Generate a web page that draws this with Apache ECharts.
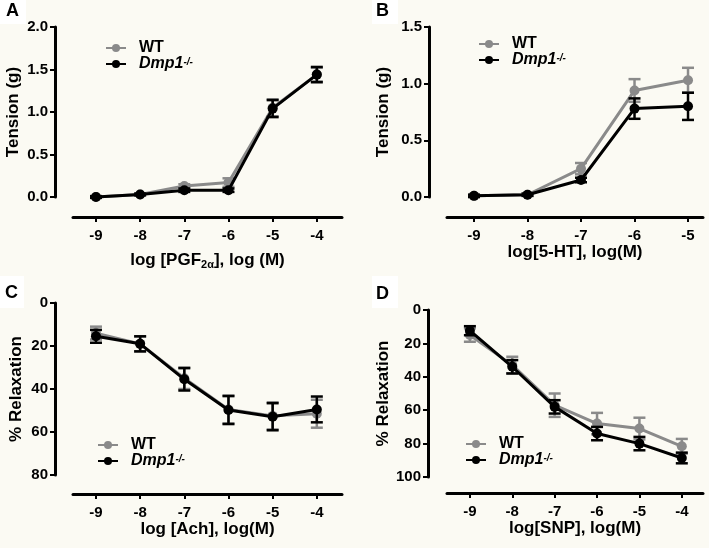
<!DOCTYPE html>
<html><head><meta charset="utf-8">
<script src="https://cdn.jsdelivr.net/npm/echarts@6/dist/echarts.min.js"></script>
<style>html,body{margin:0;padding:0;background:#fbfaf3}#c{width:709px;height:548px}</style>
</head><body><div id="c"></div>
<script>
// ---- data ----
const xA = [-9, -8, -7, -6, -5, -4];
const wtA = [0.0, 0.03, 0.13, 0.17, 1.05, 1.44];
const wtAErr = [0.01, 0.01, 0.02, 0.05, 0.1, 0.08];
const koA = [0.0, 0.03, 0.08, 0.08, 1.04, 1.44];
const koAErr = [0.01, 0.01, 0.02, 0.02, 0.1, 0.09];

const xB = [-9, -8, -7, -6, -5];
const wtB = [0.01, 0.02, 0.25, 0.94, 1.03];
const wtBErr = [0.01, 0.01, 0.05, 0.1, 0.11];
const koB = [0.01, 0.02, 0.15, 0.78, 0.80];
const koBErr = [0.01, 0.01, 0.02, 0.09, 0.12];

const xC = [-9, -8, -7, -6, -5, -4];
const wtC = [14, 19, 35, 49.5, 52.5, 51.5];
const wtCErr = [3, 3.5, 5, 6.5, 6.3, 6.5];
const koC = [15.5, 19, 35.5, 49.8, 52.9, 49.5];
const koCErr = [3, 3.5, 5.2, 6.5, 6.3, 6];

const xD = [-9, -8, -7, -6, -5, -4];
const wtD = [15, 33, 57, 68, 71, 81.6];
const wtDErr = [4, 5, 7, 6.4, 6.5, 4.4];
const koD = [12.4, 34, 58, 74, 80, 88.6];
const koDErr = [2.7, 4, 4, 4, 4, 3.2];

const yTicksA = [0, 0.5, 1.0, 1.5, 2.0];
const yTicksB = [0, 0.5, 1.0, 1.5];
const yTicksC = [0, 20, 40, 60, 80];
const yTicksD = [0, 20, 40, 60, 80, 100];

// ---- style ----
const FONT = 'Liberation Sans, Arial, sans-serif';
const GRAY = '#8a8a8a';
const BLACK = '#000000';

function pairs(xs, ys) { return xs.map((x, i) => [x, ys[i]]); }
function errs(xs, ys, es) { return xs.map((x, i) => [x, ys[i] - es[i], ys[i] + es[i]]); }

function errSeries(idx, data, color, z) {
  return {
    type: 'custom', xAxisIndex: idx, yAxisIndex: idx, clip: false, z: z, silent: true,
    data: data, encode: { x: 0, y: [1, 2] },
    renderItem: function (params, api) {
      const x = api.value(0);
      const lo = api.coord([x, api.value(1)]);
      const hi = api.coord([x, api.value(2)]);
      const w = 6;
      const st = { stroke: color, lineWidth: 2.5 };
      return { type: 'group', children: [
        { type: 'line', shape: { x1: lo[0], y1: lo[1], x2: hi[0], y2: hi[1] }, style: st },
        { type: 'line', shape: { x1: lo[0] - w, y1: lo[1], x2: lo[0] + w, y2: lo[1] }, style: st },
        { type: 'line', shape: { x1: hi[0] - w, y1: hi[1], x2: hi[0] + w, y2: hi[1] }, style: st }
      ] };
    }
  };
}
function lineSeries(idx, name, data, color, z) {
  return {
    type: 'line', name: name, xAxisIndex: idx, yAxisIndex: idx, data: data, clip: false, z: z,
    symbol: 'circle', symbolSize: 10, showSymbol: true,
    lineStyle: { color: color, width: 3 }, itemStyle: { color: color }
  };
}

const axisLabelStyle = { color: BLACK, fontFamily: FONT, fontWeight: 'bold', fontSize: 15 };
const nameStyleBase = { color: BLACK, fontFamily: FONT, fontWeight: 'bold', fontSize: 17 };

function xAxisDef(idx, min, max, ticks, name, gap, offset, rich) {
  return {
    type: 'value', gridIndex: idx, min: min, max: max, offset: offset,
    position: 'bottom',
    customValues: ticks,
    axisLine: { onZero: false, lineStyle: { color: BLACK, width: 3 } },
    axisTick: { show: true, length: 5, lineStyle: { color: BLACK, width: 2 }, customValues: ticks },
    axisLabel: Object.assign({ margin: 11, customValues: ticks, formatter: v => String(v) }, axisLabelStyle),
    splitLine: { show: false },
    name: name, nameLocation: 'middle', nameGap: gap,
    nameTextStyle: Object.assign({ rich: rich || {} }, nameStyleBase)
  };
}
function yAxisDef(idx, min, max, ticks, inverse, name, gap, offset, fmt) {
  return {
    type: 'value', gridIndex: idx, min: min, max: max, inverse: inverse, offset: offset,
    customValues: ticks,
    axisLine: { show: true, onZero: false, lineStyle: { color: BLACK, width: 3 } },
    axisTick: { show: true, length: 5, lineStyle: { color: BLACK, width: 2 }, customValues: ticks },
    axisLabel: Object.assign({ margin: 7, customValues: ticks, formatter: fmt }, axisLabelStyle),
    splitLine: { show: false },
    name: name, nameLocation: 'middle', nameGap: gap, nameRotate: 90,
    nameTextStyle: nameStyleBase
  };
}

const subRich = {
  n: { fontFamily: FONT, fontWeight: 'bold', fontSize: 17, color: BLACK },
  sub: { fontFamily: FONT, fontWeight: 'bold', fontSize: 11, color: BLACK, verticalAlign: 'bottom', padding: [9, 0, 0, 0] }
};

function legendDef(left, top) {
  return {
    left: left, top: top, orient: 'vertical', itemWidth: 20, itemHeight: 10, itemGap: 0,
    data: ['WT', 'Dmp1'], selectedMode: false,
    formatter: n => n === 'WT' ? '{b|WT}' : '{i|Dmp1}{s|-/-}',
    textStyle: {
      padding: [0, 0, 0, 8], lineHeight: 14,
      rich: {
        b: { fontFamily: FONT, fontWeight: 'bold', fontSize: 16, color: BLACK, lineHeight: 14 },
        i: { fontFamily: FONT, fontWeight: 'bold', fontStyle: 'italic', fontSize: 16, color: BLACK, lineHeight: 14 },
        s: { fontFamily: FONT, fontWeight: 'bold', fontStyle: 'italic', fontSize: 10, color: BLACK, lineHeight: 14, verticalAlign: 'top', padding: [0, 0, 9, 0] }
      }
    }
  };
}

const fmt1 = v => v.toFixed(1);
const fmt0 = v => String(v);

const option = {
  backgroundColor: '#fbfaf3',
  animation: false,
  graphic: [
    { type: 'rect', shape: { x: 0, y: 0, width: 26, height: 24 }, style: { fill: '#ffffff' } },
    { type: 'text', left: 6, top: 2, style: { text: 'A', font: 'bold 18px ' + FONT, fill: BLACK } },
    { type: 'rect', shape: { x: 372, y: 0, width: 26, height: 24 }, style: { fill: '#ffffff' } },
    { type: 'text', left: 376, top: 2, style: { text: 'B', font: 'bold 18px ' + FONT, fill: BLACK } },
    { type: 'rect', shape: { x: 0, y: 276, width: 24, height: 32 }, style: { fill: '#ffffff' } },
    { type: 'text', left: 5, top: 284, style: { text: 'C', font: 'bold 18px ' + FONT, fill: BLACK } },
    { type: 'rect', shape: { x: 372, y: 276, width: 26, height: 32 }, style: { fill: '#ffffff' } },
    { type: 'text', left: 376, top: 285, style: { text: 'D', font: 'bold 18px ' + FONT, fill: BLACK } }
  ],
  grid: [
    { left: 73, top: 27, width: 269, height: 170 },
    { left: 447, top: 27, width: 256, height: 170 },
    { left: 73, top: 303, width: 269, height: 172 },
    { left: 447, top: 310, width: 256, height: 167 }
  ],
  xAxis: [
    xAxisDef(0, -9.52, -3.43, xA, '{n|log [PGF}{sub|2α}{n|], log (M)}', 33, 20, subRich),
    xAxisDef(1, -9.505, -4.72, xB, 'log[5-HT], log(M)', 27, 20),
    xAxisDef(2, -9.52, -3.43, xC, 'log [Ach], log(M)', 27, 19),
    xAxisDef(3, -9.54, -3.50, xD, 'log[SNP], log(M)', 15, 16)
  ],
  yAxis: [
    yAxisDef(0, 0, 2, yTicksA, false, 'Tension (g)', 33, 18, fmt1),
    yAxisDef(1, 0, 1.5, yTicksB, false, 'Tension (g)', 37, 18, fmt1),
    yAxisDef(2, 0, 80, yTicksC, true, '% Relaxation', 30, 18, fmt0),
    yAxisDef(3, 0, 100, yTicksD, true, '% Relaxation', 23, 19, fmt0)
  ],
  legend: [legendDef(100, 35), legendDef(473, 31), legendDef(92, 432), legendDef(460, 431)],
  series: [
    errSeries(0, errs(xA, wtA, wtAErr), GRAY, 2), lineSeries(0, 'WT', pairs(xA, wtA), GRAY, 2),
    errSeries(0, errs(xA, koA, koAErr), BLACK, 3), lineSeries(0, 'Dmp1', pairs(xA, koA), BLACK, 3),
    errSeries(1, errs(xB, wtB, wtBErr), GRAY, 2), lineSeries(1, 'WT', pairs(xB, wtB), GRAY, 2),
    errSeries(1, errs(xB, koB, koBErr), BLACK, 3), lineSeries(1, 'Dmp1', pairs(xB, koB), BLACK, 3),
    errSeries(2, errs(xC, wtC, wtCErr), GRAY, 2), lineSeries(2, 'WT', pairs(xC, wtC), GRAY, 2),
    errSeries(2, errs(xC, koC, koCErr), BLACK, 3), lineSeries(2, 'Dmp1', pairs(xC, koC), BLACK, 3),
    errSeries(3, errs(xD, wtD, wtDErr), GRAY, 2), lineSeries(3, 'WT', pairs(xD, wtD), GRAY, 2),
    errSeries(3, errs(xD, koD, koDErr), BLACK, 3), lineSeries(3, 'Dmp1', pairs(xD, koD), BLACK, 3)
  ]
};
const chart = echarts.init(document.getElementById('c'), null, { renderer: 'canvas' });
chart.setOption(option);
</script></body></html>
